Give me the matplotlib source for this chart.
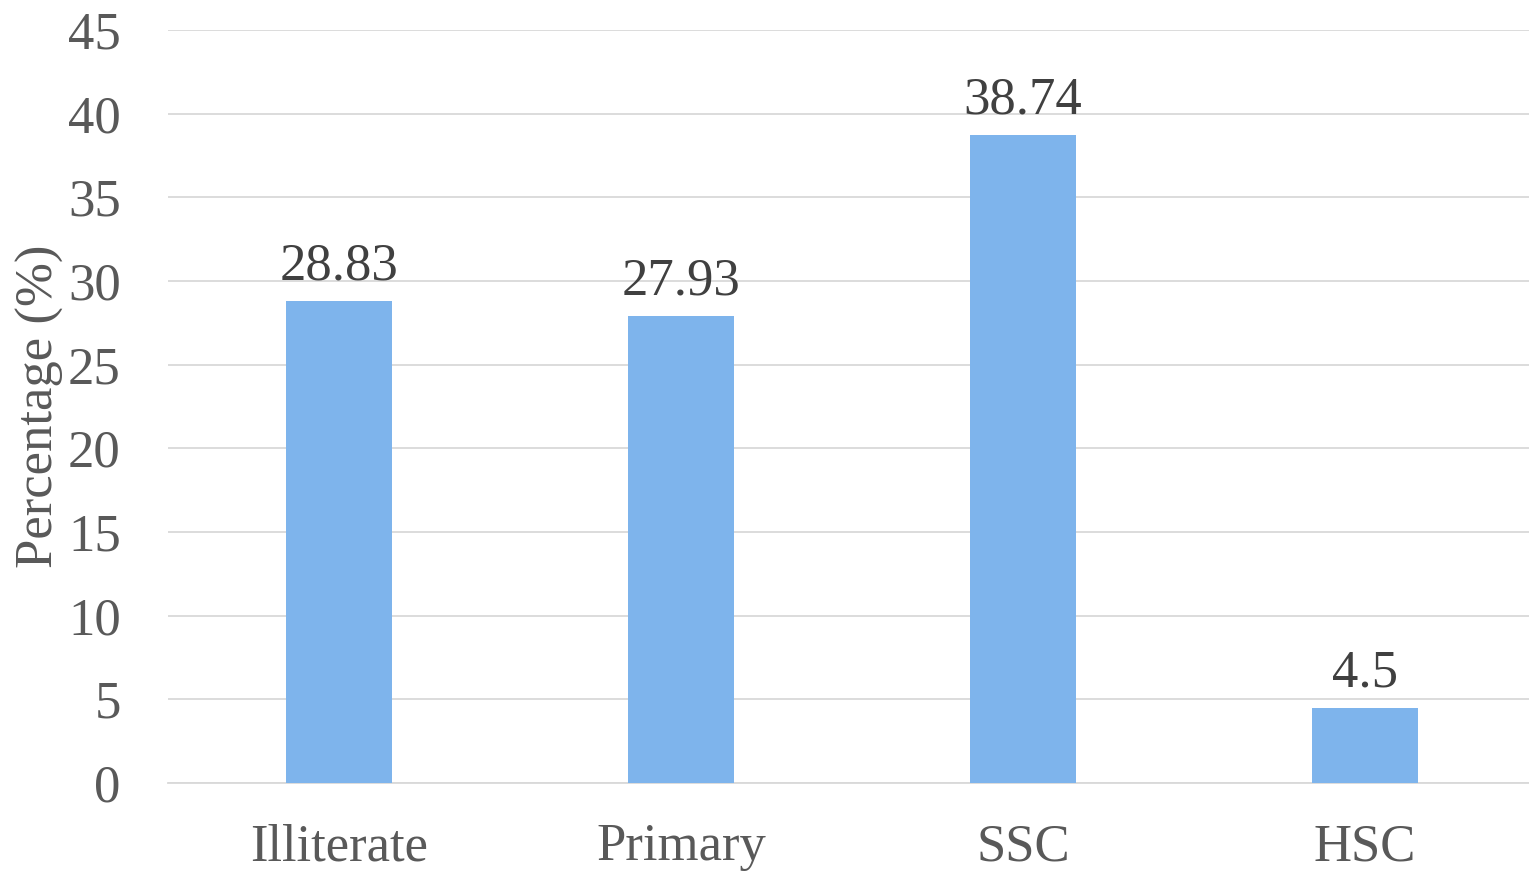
import matplotlib
matplotlib.use("Agg")
import matplotlib.pyplot as plt

categories = ["Illiterate", "Primary", "SSC", "HSC"]
values = [28.83, 27.93, 38.74, 4.5]
value_labels = ["28.83", "27.93", "38.74", "4.5"]

plt.rcParams['font.family'] = ['Liberation Serif', 'DejaVu Serif']

fig = plt.figure(figsize=(15.29, 8.75), dpi=100)
ax = fig.add_axes([0.1099, 0.1051, 0.8947, 0.8606])

x = range(len(categories))
bars = ax.bar(x, values, width=0.31, color='#7EB4EC', zorder=3)

for b, lab in zip(bars, value_labels):
    ax.text(b.get_x() + b.get_width() / 2, b.get_height() + 0.6, lab,
            ha='center', va='bottom', fontsize=38, color='#404040')

ax.set_xlim(-0.5, 3.5)
ax.set_ylim(0, 45)
ax.set_yticks(range(0, 46, 5))
ax.set_xticks(list(x))
ax.set_xticklabels(categories)
ax.tick_params(axis='both', length=0, labelsize=38, labelcolor='#595959')
ax.tick_params(axis='x', pad=29)
ax.tick_params(axis='y', pad=34)
ax.grid(axis='y', color='#D9D9D9', linewidth=1.3, zorder=0)
for s in ['top', 'right', 'left']:
    ax.spines[s].set_visible(False)
ax.spines['bottom'].set_color('#D9D9D9')
ax.spines['bottom'].set_linewidth(1.3)

ax.set_ylabel('Percentage (%)', fontsize=38, color='#595959')
ax.yaxis.set_label_coords(-0.076, 0.5)

fig.savefig('out.png', dpi=100)
